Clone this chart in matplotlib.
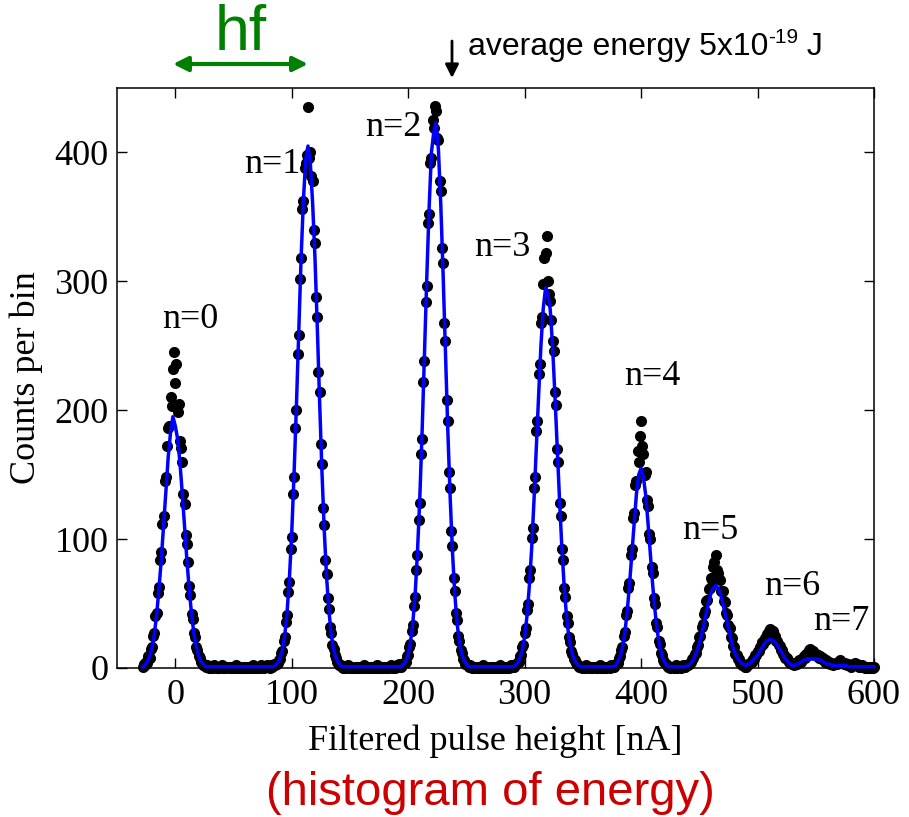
import numpy as np
import matplotlib.pyplot as plt

# Counts per 1 nA bin, one list per region
counts_n0 = [1, 3, 2, 5, 4, 9, 8, 15, 16, 25, 27, 40, 43, 58, 63, 84, 90, 112, 118, 145,
             148, 172, 186, 188, 210, 203, 232, 245, 221, 236, 199, 205, 176, 171, 160, 135, 127, 103, 96, 82,
             64, 57, 42, 38, 27, 24, 16, 14, 9, 8, 5, 4, 2, 2]
gap_01 = [1, 2, 1, 0, 1, 1, 0, 2, 1, 0, 1, 0, 0, 1, 2, 0, 1, 0, 1, 1,
          0, 1, 0, 0, 1, 0, 2, 1, 0, 1, 0, 0, 1, 1, 0, 1, 0, 1, 0, 0,
          1, 2, 0, 1, 0, 1, 1, 0, 2, 1, 0, 1, 1, 2, 1, 0, 2, 1, 2, 3]
counts_n1 = [2, 3, 4, 6, 7, 12, 13, 21, 24, 36, 41, 59, 67, 92, 102, 135, 148, 186, 200, 244,
             258, 302, 318, 356, 362, 388, 392, 398, 435, 396, 400, 382, 378, 340, 330, 288, 272, 230, 214, 174,
             158, 124, 111, 84, 73, 54, 46, 32, 27, 18, 15, 10, 8, 5, 4, 2, 2]
gap_12 = [1, 0, 1, 1, 0, 2, 1, 0, 1, 0, 0, 1, 0, 1, 1, 0, 0, 1, 0, 2,
          1, 0, 1, 0, 0, 1, 1, 0, 1, 0, 2, 1, 0, 0, 1, 0, 1, 1, 0, 1,
          0, 1, 2, 0, 1, 1, 0, 2, 1, 3, 2, 1]
counts_n2 = [2, 3, 5, 5, 9, 10, 16, 19, 29, 33, 48, 55, 76, 88, 115, 128, 166, 178, 222, 238,
             284, 296, 345, 352, 392, 396, 425, 419, 436, 432, 411, 410, 378, 370, 326, 314, 268, 254, 208, 192,
             152, 140, 106, 95, 70, 60, 43, 37, 25, 21, 14, 12, 7, 6, 3, 3, 2]
gap_23 = [1, 2, 1, 0, 1, 0, 1, 1, 0, 0, 1, 0, 2, 1, 0, 1, 0, 0, 1, 1,
          0, 1, 0, 1, 0, 0, 1, 2, 0, 1, 0, 1, 1, 0, 1, 0, 2, 1, 2]
counts_n3 = [1, 2, 3, 5, 5, 9, 10, 16, 18, 27, 31, 45, 50, 70, 76, 101, 109, 140, 148, 184,
             192, 228, 236, 268, 272, 298, 318, 322, 335, 300, 290, 285, 270, 254, 246, 214, 204, 170, 160, 128,
             118, 92, 84, 62, 55, 40, 35, 24, 20, 13, 11, 7, 6, 4, 3, 2, 1]
gap_34 = [1, 0, 1, 1, 0, 2, 1, 0, 1, 0, 0, 1, 1, 0, 1, 0, 1, 2, 0, 1,
          0, 1, 0, 1, 1, 0, 2, 1, 1]
counts_n4 = [1, 2, 4, 4, 8, 9, 14, 16, 25, 28, 41, 44, 62, 66, 88, 92, 116, 120, 142, 145,
             168, 160, 180, 192, 172, 166, 150, 152, 130, 126, 104, 100, 78, 74, 54, 50, 35, 32, 21, 19,
             12, 10, 6, 5, 3, 2, 1]
gap_45 = [1, 0, 1, 1, 0, 1, 2, 0, 1, 1, 0, 1, 2, 1, 1, 2]
counts_n5 = [2, 3, 4, 5, 7, 8, 11, 12, 16, 18, 24, 25, 32, 34, 42, 44, 52, 53, 61, 62,
             70, 68, 78, 82, 88, 76, 74, 69, 68, 60, 60, 52, 51, 43, 41, 33, 31, 24, 23, 17,
             16, 11, 10, 7, 7, 4, 4, 2, 2, 1]
counts_n6 = [1, 2, 3, 3, 5, 5, 7, 7, 10, 10, 13, 13, 16, 17, 20, 19, 23, 22, 26, 25,
             29, 30, 27, 29, 24, 25, 21, 21, 18, 17, 14, 14, 11, 10, 8, 8, 6, 5, 4, 4, 3, 2]
counts_n7 = [3, 4, 3, 5, 6, 5, 7, 8, 9, 8, 11, 10, 14, 15, 12, 11, 13, 10, 11, 9,
             10, 8, 9, 7, 8, 6, 5, 6, 4, 5, 3, 4, 3, 2, 3, 4, 3, 5, 4, 6,
             5, 4, 3, 4, 3, 2, 3, 2, 1, 2, 3, 2, 4, 3, 2, 1, 2, 1, 2, 1,
             0, 1, 1, 0, 1, 0, 1, 0, 1]
dot_starts = [-28, 26, 86, 143, 195, 252, 291, 348, 377, 424, 440, 490, 532]
dot_parts = [counts_n0, gap_01, counts_n1, gap_12, counts_n2, gap_23, counts_n3,
             gap_34, counts_n4, gap_45, counts_n5, counts_n6, counts_n7]

# Fitted curve, every 2 nA
fit_n0 = [1, 2, 5, 9, 16, 26, 41, 61, 84, 111, 139, 164, 183, 195, 188, 178, 160, 136, 110, 84,
          61, 42, 27, 17, 10, 5, 3]
fit_gap01 = [1, 1, 1, 1, 1, 1, 1, 1, 1, 1, 1, 1, 1, 1, 1, 1, 1, 1, 1, 1,
             1, 1, 1, 1, 1, 1, 1, 1, 1, 1]
fit_n1 = [2, 4, 8, 14, 25, 43, 69, 104, 150, 202, 260, 316, 362, 394, 405, 392, 360, 318, 264, 206,
          152, 106, 70, 44, 26, 14, 8, 4, 2]
fit_gap12 = [1, 1, 1, 1, 1, 1, 1, 1, 1, 1, 1, 1, 1, 1, 1, 1, 1, 1, 1, 1, 1, 1, 1, 1, 1, 1]
fit_n2 = [3, 5, 11, 20, 35, 57, 90, 132, 184, 243, 303, 357, 400, 416, 423, 402, 360, 306, 246, 186,
          134, 91, 58, 35, 20, 11, 6, 3]
fit_gap23 = [1, 1, 1, 1, 1, 1, 1, 1, 1, 1, 1, 1, 1, 1, 1, 1, 1, 1, 1, 1]
fit_n3 = [2, 4, 8, 14, 24, 40, 63, 92, 129, 170, 211, 250, 279, 295, 290, 278, 250, 212, 171, 130,
          93, 63, 40, 24, 14, 8, 4, 2]
fit_gap34 = [1, 1, 1, 1, 1, 1, 1, 1, 1, 1, 1, 1, 1, 1, 1]
fit_n4 = [2, 5, 9, 16, 27, 43, 64, 88, 113, 135, 150, 155, 148, 134, 112, 88, 64, 44, 28, 17, 9, 5, 2]
fit_gap45 = [1, 1, 1, 1, 1, 1, 1, 1]
fit_n5 = [2, 3, 5, 9, 13, 19, 26, 34, 43, 51, 58, 62, 64, 62, 58, 51, 43, 35, 27, 19, 13, 9, 6, 4, 3]
fit_n6 = [2, 3, 4, 6, 8, 10, 13, 16, 19, 21, 22, 22, 21, 19, 16, 13, 10, 7, 5, 3, 2]
fit_n7 = [2, 3, 4, 5, 6, 7, 7, 7, 7, 7, 7, 6, 5, 4, 3, 3, 2, 2, 2, 2,
          2, 2, 2, 1, 1, 1, 1, 1, 1, 1, 1, 1, 1, 1, 1]
fit_starts = [-28, 26, 86, 144, 196, 252, 292, 348, 378, 424, 440, 490, 532]
fit_parts = [fit_n0, fit_gap01, fit_n1, fit_gap12, fit_n2, fit_gap23, fit_n3,
             fit_gap34, fit_n4, fit_gap45, fit_n5, fit_n6, fit_n7]

peak_labels = ['n=0', 'n=1', 'n=2', 'n=3', 'n=4', 'n=5', 'n=6', 'n=7']
label_x = [13, 83, 187, 281, 410, 459, 530, 572]
label_y = [270, 391, 419, 326, 226, 107, 63, 36]


def build(starts, parts, step):
    xs = np.concatenate([s + step * np.arange(len(p)) for s, p in zip(starts, parts)])
    ys = np.concatenate([np.asarray(p, dtype=float) for p in parts])
    return xs, ys


x_dots, y_dots = build(dot_starts, dot_parts, 1)
x_fit, y_fit = build(fit_starts, fit_parts, 2)

plt.rcParams['font.family'] = 'Liberation Serif'

W, H = 909, 817
fig = plt.figure(figsize=(W / 100, H / 100), dpi=100)
ax = fig.add_axes([117 / W, 1 - 668 / H, (874 - 117) / W, (668 - 88) / H])

ax.plot(x_dots, y_dots, 'o', color='black', markersize=8, markeredgewidth=0,
        clip_on=False, zorder=2)
ax.plot(x_fit, y_fit, '-', color='#0000ff', lw=2.5, clip_on=False, zorder=3)

for lab, lx, ly in zip(peak_labels, label_x, label_y):
    ax.text(lx, ly, lab, fontsize=26, ha='center', va='center')

ax.set_xlim(-50, 600)
ax.set_ylim(0, 450)
ax.set_xticks([0, 100, 200, 300, 400, 500, 600])
ax.set_yticks([0, 100, 200, 300, 400])
ax.tick_params(direction='in', length=7, width=1, top=True, right=True, labelsize=26)
ax.tick_params(axis='x', pad=8)
ax.tick_params(axis='y', pad=6)
for sp in ax.spines.values():
    sp.set_linewidth(1.1)
ax.set_xlabel('Filtered pulse height [nA]', fontsize=26, labelpad=9)
ax.set_ylabel('Counts per bin', fontsize=26, labelpad=8)

# annotations above and below the axes
fig.text(241 / W, 1 - 50 / H, 'hf', color='#008000', fontsize=45,
         family='Liberation Sans', ha='center', va='baseline')
ax.annotate('', xy=(173 / W, 1 - 64 / H), xytext=(308 / W, 1 - 64 / H),
            xycoords='figure fraction', textcoords='figure fraction',
            arrowprops=dict(arrowstyle='<|-|>', color='#008000', lw=3, mutation_scale=22,
                            shrinkA=0, shrinkB=0))
ax.annotate('', xy=(452 / W, 1 - 78 / H), xytext=(452 / W, 1 - 41 / H),
            xycoords='figure fraction', textcoords='figure fraction',
            arrowprops=dict(arrowstyle='-|>', color='black', lw=2, mutation_scale=20,
                            shrinkA=0, shrinkB=0))

renderer = fig.canvas.get_renderer()
t1 = fig.text(468 / W, 1 - 55 / H, 'average energy 5x10', fontsize=23,
              family='Liberation Sans', va='baseline')
x1 = t1.get_window_extent(renderer).x1
t2 = fig.text(x1 / W, 1 - 43 / H, '-19', fontsize=15, family='Liberation Sans', va='baseline')
x2 = t2.get_window_extent(renderer).x1
fig.text(x2 / W, 1 - 55 / H, ' J', fontsize=23, family='Liberation Sans', va='baseline')

fig.text(490 / W, 1 - 805 / H, '(histogram of energy)', color='#cc0000', fontsize=34,
         family='Liberation Sans', ha='center', va='baseline')

fig.savefig('out.png', dpi=100)
